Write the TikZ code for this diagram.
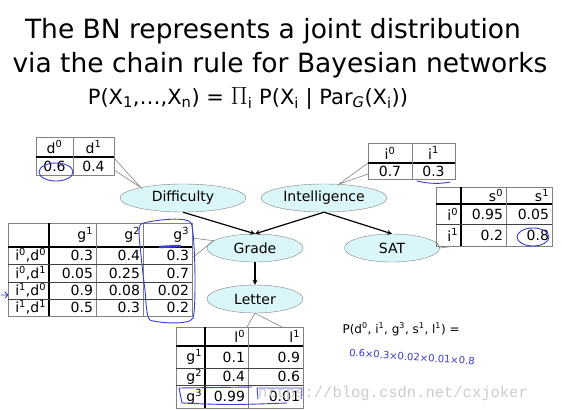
\documentclass[tikz,border=0pt]{standalone}
\usepackage{fontspec}
\setmainfont{DejaVu Sans}
\newfontfamily\wmfont{Liberation Mono}
\usepackage{xcolor}
\usepackage{tikz}
\usetikzlibrary{shapes.geometric, arrows, positioning, matrix}
\definecolor{nodecyan}{RGB}{218, 246, 248}
\definecolor{penblue}{RGB}{60, 60, 205}
\definecolor{gridgray}{RGB}{130, 130, 130}

\begin{document}
\begin{tikzpicture}[
        x=1pt, y=-1pt,
        bnnode/.style={ellipse, draw=gridgray, fill=nodecyan, minimum width=126pt, minimum height=28pt, inner sep=0pt, font=\fontsize{14}{16}\selectfont},
        arrow/.style={->, >=stealth, line width=1.2pt},
        callout/.style={draw=gridgray, line width=0.6pt},
        cpd/.style={matrix of nodes, nodes in empty cells, anchor=north west, inner sep=0pt, outer sep=0pt, row sep=0pt, column sep=0pt,
            nodes={anchor=center, inner ysep=0pt, inner xsep=3pt, outer sep=0pt, align=right, font=\fontsize{14}{15}\selectfont}},
        frame/.style={draw=gridgray, line width=0.6pt},
        headline/.style={draw=black, line width=1.5pt},
        rowline/.style={draw=black!75, line width=0.9pt},
        colline/.style={draw=gridgray, line width=0.6pt},
        pen/.style={draw=penblue, line width=0.9pt, line cap=round, line join=round},
    ]
        \fill[white] (0,0) rectangle (562,410);
        \useasboundingbox (0,0) rectangle (562,410);

        % heading and chain rule
        \node[anchor=base, font=\fontsize{26.5}{30}\selectfont] (title1) at (273,38) {The BN represents a joint distribution};
        \node[anchor=base, font=\fontsize{26.5}{30}\selectfont] (title2) at (280,72) {via the chain rule for Bayesian networks};
        \node[anchor=base, font=\fontsize{21}{24}\selectfont] (chainrule) at (248,104) {P(X\textsubscript{1},\ldots,X\textsubscript{n}) = {\fontsize{25}{25}\selectfont$\Pi$}\textsubscript{i} P(X\textsubscript{i} | Par\textsubscript{\textit{G}}(X\textsubscript{i}))};

        % network
        \node[bnnode] (diff) at (183,198) {Difficulty};
        \node[bnnode] (intel) at (324,198) {Intelligence};
        \node[bnnode, minimum width=96pt] (grade) at (255,248) {Grade};
        \node[bnnode, minimum width=95pt] (sat) at (392,248) {SAT};
        \node[bnnode, minimum width=96pt] (letter) at (255,299) {Letter};

        \draw[arrow] (diff.south) -- (grade.north);
        \draw[arrow] (intel.south) -- (grade.north);
        \draw[arrow] (intel.south) -- (sat.north);
        \draw[arrow] (grade) -- (letter);

        % CPD of Difficulty
        \matrix[cpd, align=center,
            column 1/.style={nodes={text width=31pt, align=center}},
            column 2/.style={nodes={text width=35pt, align=center}},
            row 1/.style={nodes={minimum height=20pt}},
            row 2/.style={nodes={minimum height=18pt}}] (dcpd) at (36,137) {
            d\textsuperscript{0} & d\textsuperscript{1} \\
            0.6 & 0.4 \\
        };
        \draw[frame] (dcpd.north west) rectangle (dcpd.south east);
        \draw[headline] (dcpd-1-1.south west) -- (dcpd-1-2.south east);
        \draw[colline] (dcpd-1-1.north east) -- (dcpd-2-1.south east);
        \draw[callout] ([yshift=17pt]dcpd.south east) -- (diff.166) -- ([yshift=5pt]dcpd.south east);

        % CPD of Intelligence
        \matrix[cpd,
            column 1/.style={nodes={text width=38pt, align=center}},
            column 2/.style={nodes={text width=37pt, align=center}},
            row 1/.style={nodes={minimum height=20pt}},
            row 2/.style={nodes={minimum height=16pt}}] (icpd) at (368,143) {
            i\textsuperscript{0} & i\textsuperscript{1} \\
            0.7 & 0.3 \\
        };
        \draw[frame] (icpd.north west) rectangle (icpd.south east);
        \draw[headline] (icpd-1-1.south west) -- (icpd-1-2.south east);
        \draw[colline] (icpd-1-1.north east) -- (icpd-2-1.south east);
        \draw[callout] ([yshift=16pt]icpd.south west) -- (intel.43) -- ([yshift=5pt]icpd.south west);

        % CPD of SAT
        \matrix[cpd,
            column 1/.style={nodes={text width=19pt}},
            column 2/.style={nodes={text width=39pt}},
            column 3/.style={nodes={text width=40pt}},
            row 1/.style={nodes={minimum height=17pt}},
            row 2/.style={nodes={minimum height=20pt}},
            row 3/.style={nodes={minimum height=22pt}}] (scpd) at (436,187) {
            & s\textsuperscript{0} & s\textsuperscript{1} \\
            i\textsuperscript{0} & 0.95 & 0.05 \\
            i\textsuperscript{1} & 0.2 & 0.8 \\
        };
        \draw[frame] (scpd.north west) rectangle (scpd.south east);
        \draw[headline] (scpd-1-1.south west) -- (scpd-1-3.south east);
        \draw[headline] (scpd-1-1.north east) -- (scpd-3-1.south east);
        \draw[colline] (scpd-1-2.north east) -- (scpd-3-2.south east);
        \draw[rowline] (scpd-2-1.south west) -- (scpd-2-3.south east);
        \draw[callout] ([yshift=5pt]scpd.south west) -- (sat.east) -- ([xshift=19pt]scpd.south west);

        % CPD of Grade
        \matrix[cpd,
            column 1/.style={nodes={text width=35pt}},
            column 2/.style={nodes={text width=41pt}},
            column 3/.style={nodes={text width=41pt}},
            column 4/.style={nodes={text width=43pt}},
            row 1/.style={nodes={minimum height=24pt}},
            row 2/.style={nodes={minimum height=17pt}},
            row 3/.style={nodes={minimum height=18pt}},
            row 4/.style={nodes={minimum height=17pt}},
            row 5/.style={nodes={minimum height=17pt}}] (gcpd) at (8,223) {
            & g\textsuperscript{1} & g\textsuperscript{2} & g\textsuperscript{3} \\
            i\textsuperscript{0},d\textsuperscript{0} & 0.3 & 0.4 & 0.3 \\
            i\textsuperscript{0},d\textsuperscript{1} & 0.05 & 0.25 & 0.7 \\
            i\textsuperscript{1},d\textsuperscript{0} & 0.9 & 0.08 & 0.02 \\
            i\textsuperscript{1},d\textsuperscript{1} & 0.5 & 0.3 & 0.2 \\
        };
        \draw[frame] (gcpd.north west) rectangle (gcpd.south east);
        \draw[headline] (gcpd-1-1.south west) -- (gcpd-1-4.south east);
        \draw[headline] (gcpd-1-1.north east) -- (gcpd-5-1.south east);
        \foreach \c in {2,3}
            \draw[colline] (gcpd-1-\c.north east) -- (gcpd-5-\c.south east);
        \foreach \r in {2,3,4}
            \draw[rowline] (gcpd-\r-1.south west) -- (gcpd-\r-4.south east);
        \draw[callout] ([yshift=-15pt]gcpd.north east) -- (grade.170) -- ([yshift=-35pt]gcpd.north east);

        % CPD of Letter
        \matrix[cpd,
            column 1/.style={nodes={text width=23pt}},
            column 2/.style={nodes={text width=37pt}},
            column 3/.style={nodes={text width=49pt}},
            row 1/.style={nodes={minimum height=19pt}},
            row 2/.style={nodes={minimum height=22pt}},
            row 3/.style={nodes={minimum height=17pt}},
            row 4/.style={nodes={minimum height=23pt}}] (lcpd) at (176,327) {
            & l\textsuperscript{0} & l\textsuperscript{1} \\
            g\textsuperscript{1} & 0.1 & 0.9 \\
            g\textsuperscript{2} & 0.4 & 0.6 \\
            g\textsuperscript{3} & 0.99 & 0.01 \\
        };
        \draw[frame] (lcpd.north west) rectangle (lcpd.south east);
        \draw[headline] (lcpd-1-1.south west) -- (lcpd-1-3.south east);
        \draw[headline] (lcpd-1-1.north east) -- (lcpd-4-1.south east);
        \draw[colline] (lcpd-1-2.north east) -- (lcpd-4-2.south east);
        \foreach \r in {2,3}
            \draw[rowline] (lcpd-\r-1.south west) -- (lcpd-\r-3.south east);
        \draw[callout] ([xshift=71pt]lcpd.north west) -- (letter.south) -- ([xshift=106pt]lcpd.north west);

        % worked example
        \node[anchor=base west, font=\fontsize{12}{14}\selectfont] (jointprob) at (339,333) {P(d\textsuperscript{0}, i\textsuperscript{1}, g\textsuperscript{3}, s\textsuperscript{1}, l\textsuperscript{1}) =};
        \node[text=penblue, font=\fontsize{10}{12}\selectfont, rotate=-4] (handcalc) at (412,357) {0.6×0.3×0.02×0.01×0.8};

        % pen marks
        \draw[pen] (56,172) ellipse [x radius=17, y radius=9];
        \draw[pen] (417,181) .. controls (430,184) and (440,184) .. (450,182);
        \draw[pen] (533,237) ellipse [x radius=16, y radius=9];
        \draw[pen] plot[smooth cycle, tension=0.3] coordinates {(141,224) (191,223) (193,318) (150,320) (145,290) (141,255)};
        \draw[pen, line width=2.5pt] (160,247) -- (180,246);
        \draw[pen] (1,295) -- (8,295) (5,292) -- (8,295) -- (5,298);
        \draw[pen] (252,387) -- (179,388) -- (182,403) .. controls (230,405) .. (287,403);
        \draw[pen] (258,399) -- (257,388) -- (302,388) -- (301,399);

        % watermark
        \node[anchor=base, font=\wmfont\fontsize{15.5}{16}\selectfont, text=gray!40] (watermark) at (393,397) {https://blog.csdn.net/cxjoker};
    \end{tikzpicture}
\end{document}
